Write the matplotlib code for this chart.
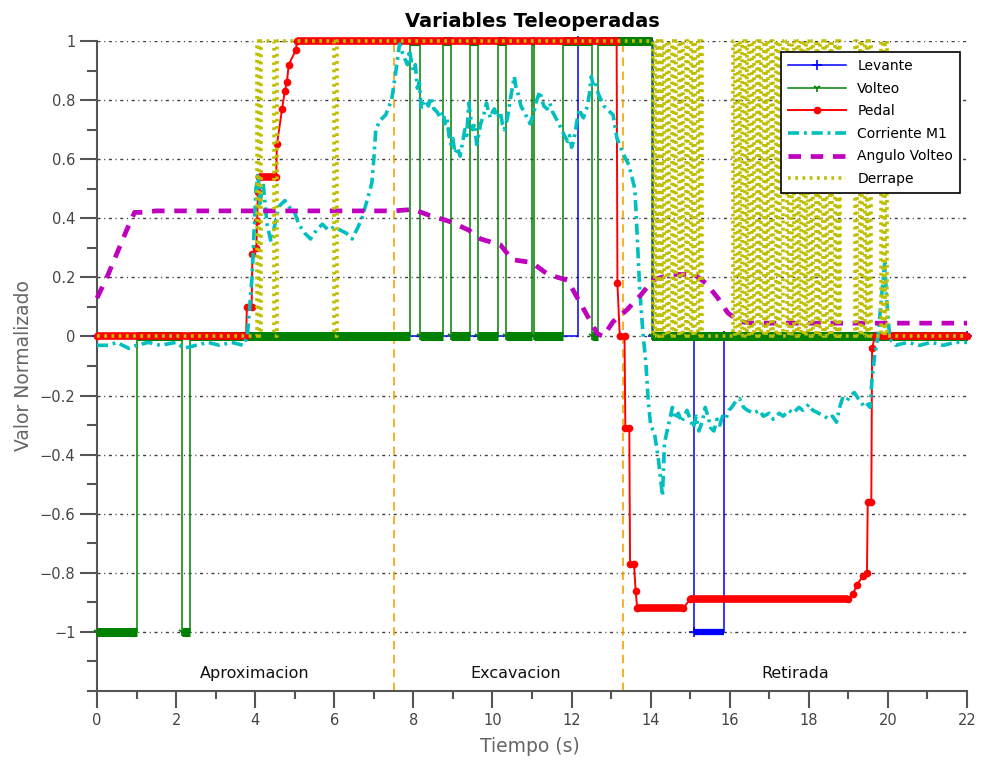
import matplotlib
matplotlib.use('Agg')
import matplotlib.pyplot as plt
from matplotlib.ticker import FixedLocator, FuncFormatter
import numpy as np

plt.rcParams['font.family'] = ['DejaVu Sans']
plt.rcParams['lines.scale_dashes'] = False

# ==========================================
# Datos (tiempo en s, valores normalizados)
# ==========================================
# Levante: senal escalonada (steps-post)
LEV_T = [0, 12.16, 14.07, 15.10, 15.85, 22]
LEV_V = [0, 1, 0, -1, 0, 0]

# Volteo: senal escalonada (steps-post)
VOL_T = [0, 1.0, 2.15, 2.35, 7.91, 8.17, 8.75, 8.95, 9.43, 9.63, 10.14, 10.34,
         11.0, 11.05, 11.78, 12.52, 12.67, 14.04, 22]
VOL_V = [-1, 0, -1, 0, 1, 0, 1, 0, 1, 0, 1, 0, 1, 0, 1, 0, 1, 0, 0]

# Pedal
PED_T = [0, 3.77, 3.79, 3.91, 3.93, 4.03, 4.05, 4.07, 4.10, 4.53,
         4.55, 4.68, 4.75, 4.80, 4.85, 5.03, 5.06, 13.14, 13.16, 13.22,
         13.34, 13.36, 13.46, 13.48, 13.58, 13.62, 13.66, 14.82, 15.00, 18.99,
         19.12, 19.22, 19.37, 19.47, 19.49, 19.58, 19.60, 19.67, 22]
PED_V = [0, 0, 0.10, 0.10, 0.28, 0.30, 0.39, 0.49, 0.54, 0.54,
         0.65, 0.77, 0.83, 0.86, 0.92, 0.97, 1.0, 1.0, 0.18, 0.0,
         0.0, -0.31, -0.31, -0.77, -0.77, -0.86, -0.92, -0.92, -0.89, -0.89,
         -0.87, -0.84, -0.81, -0.80, -0.56, -0.56, -0.04, 0.0, 0.0]

# Corriente M1 (t, valor)
COR_PAIRS = [
    (0, -0.03), (0.3, -0.03), (0.5, -0.02), (0.8, -0.04), (1.0, -0.03),
    (1.3, -0.02), (1.6, -0.03), (2.0, -0.02), (2.2, -0.04), (2.5, -0.03),
    (2.8, -0.02), (3.1, -0.03), (3.4, -0.02), (3.7, -0.03), (3.8, 0.0),
    (3.85, 0.08), (3.92, 0.20), (3.97, 0.35), (4.02, 0.50), (4.07, 0.55),
    (4.12, 0.45), (4.2, 0.52), (4.3, 0.38), (4.4, 0.32), (4.5, 0.38),
    (4.6, 0.44), (4.75, 0.46), (4.85, 0.44), (5.0, 0.42), (5.1, 0.38),
    (5.25, 0.35), (5.4, 0.33), (5.55, 0.36), (5.7, 0.38), (5.85, 0.36),
    (6.0, 0.37), (6.15, 0.36), (6.3, 0.35), (6.45, 0.33), (6.6, 0.37),
    (6.7, 0.40), (6.85, 0.47), (6.95, 0.52), (7.0, 0.60), (7.05, 0.70),
    (7.15, 0.73), (7.3, 0.75), (7.45, 0.80), (7.55, 0.89), (7.65, 0.99),
    (7.75, 0.95), (7.85, 0.92), (7.9, 0.97), (7.95, 0.93), (8.0, 0.90),
    (8.05, 0.92), (8.1, 0.84), (8.15, 0.86), (8.2, 0.77), (8.25, 0.79),
    (8.3, 0.80), (8.38, 0.78), (8.45, 0.81), (8.52, 0.77), (8.6, 0.76),
    (8.68, 0.74), (8.75, 0.76), (8.8, 0.72), (8.85, 0.74), (8.9, 0.68),
    (8.95, 0.65), (9.0, 0.67), (9.05, 0.62), (9.12, 0.64), (9.18, 0.61),
    (9.25, 0.66), (9.3, 0.70), (9.35, 0.68), (9.4, 0.79), (9.45, 0.74),
    (9.5, 0.70), (9.55, 0.72), (9.6, 0.65), (9.65, 0.68), (9.7, 0.72),
    (9.78, 0.75), (9.85, 0.79), (9.9, 0.76), (9.95, 0.74), (10.0, 0.76),
    (10.05, 0.77), (10.12, 0.74), (10.2, 0.76), (10.25, 0.72), (10.3, 0.70),
    (10.38, 0.74), (10.45, 0.80), (10.5, 0.84), (10.55, 0.88), (10.6, 0.84),
    (10.65, 0.82), (10.72, 0.78), (10.8, 0.76), (10.88, 0.74), (10.95, 0.72),
    (11.0, 0.74), (11.05, 0.76), (11.12, 0.80), (11.2, 0.83), (11.25, 0.80),
    (11.3, 0.78), (11.38, 0.77), (11.45, 0.79), (11.52, 0.76), (11.6, 0.74),
    (11.68, 0.72), (11.75, 0.70), (11.82, 0.68), (11.9, 0.66), (11.95, 0.68),
    (12.0, 0.64), (12.05, 0.66), (12.1, 0.70), (12.15, 0.74), (12.2, 0.77),
    (12.25, 0.75), (12.3, 0.74), (12.35, 0.76), (12.4, 0.78), (12.45, 0.82),
    (12.5, 0.88), (12.55, 0.85), (12.6, 0.86), (12.68, 0.82), (12.75, 0.80),
    (12.82, 0.78), (12.9, 0.77), (12.97, 0.76), (13.05, 0.75), (13.15, 0.67),
    (13.3, 0.62), (13.45, 0.58), (13.6, 0.50), (13.65, 0.37), (13.72, 0.17),
    (13.8, 0.02), (13.88, -0.09), (13.94, -0.22), (14.0, -0.30), (14.1, -0.33),
    (14.2, -0.42), (14.3, -0.54), (14.35, -0.36), (14.45, -0.30), (14.55, -0.24),
    (14.62, -0.28), (14.7, -0.26), (14.78, -0.29), (14.85, -0.27), (14.92, -0.25),
    (15.0, -0.28), (15.08, -0.31), (15.15, -0.27), (15.22, -0.32), (15.3, -0.29),
    (15.38, -0.24), (15.45, -0.27), (15.52, -0.31), (15.6, -0.32), (15.68, -0.28),
    (15.75, -0.30), (15.82, -0.27), (15.9, -0.28), (15.98, -0.25), (16.05, -0.24),
    (16.15, -0.22), (16.25, -0.21), (16.35, -0.24), (16.45, -0.25), (16.6, -0.26),
    (16.75, -0.25), (16.85, -0.27), (17.0, -0.26), (17.1, -0.28), (17.25, -0.26),
    (17.35, -0.27), (17.5, -0.25), (17.6, -0.26), (17.75, -0.24), (17.85, -0.25),
    (18.0, -0.23), (18.1, -0.25), (18.25, -0.26), (18.4, -0.27), (18.5, -0.28),
    (18.6, -0.27), (18.7, -0.29), (18.78, -0.24), (18.85, -0.21), (18.95, -0.22),
    (19.05, -0.20), (19.15, -0.19), (19.25, -0.21), (19.32, -0.22), (19.4, -0.24),
    (19.5, -0.23), (19.55, -0.24), (19.6, -0.14), (19.67, -0.06), (19.75, 0.0),
    (19.85, 0.15), (19.92, 0.25), (19.97, 0.12), (20.05, -0.01), (20.2, -0.03),
    (20.5, -0.02), (20.8, -0.03), (21.1, -0.02), (21.4, -0.03), (21.7, -0.02),
    (22, -0.02),
]

# Angulo Volteo
ANG_T = [0, 0.25, 0.5, 0.75, 0.95, 1.1, 1.5, 3.0, 5.0, 7.0, 7.5, 8.0, 8.4, 8.9,
         9.4, 9.7, 10.2, 10.5, 11.0, 11.4, 11.9, 12.15, 12.4, 12.65, 12.8, 13.05,
         13.4, 13.75, 14.05, 14.5, 15.1, 15.4, 15.7, 15.95, 16.25, 16.6, 22]
ANG_V = [0.13, 0.20, 0.28, 0.36, 0.42, 0.42, 0.425, 0.425, 0.425, 0.425, 0.425,
         0.43, 0.41, 0.39, 0.36, 0.33, 0.31, 0.26, 0.25, 0.21, 0.19, 0.13, 0.07,
         0.01, 0.0, 0.05, 0.09, 0.14, 0.19, 0.21, 0.21, 0.18, 0.13, 0.08, 0.05,
         0.045, 0.045]

# Derrape: instantes de conmutacion (empieza en 0 y alterna 0/1)
DER_EDGES = [4.04, 4.10, 4.14, 4.48, 4.54, 5.99, 6.07,
             14.06, 14.10, 14.15, 14.20, 14.24,
             14.29, 14.35, 14.41, 14.47, 14.53, 14.59, 14.65, 14.71, 14.77,
             14.83, 14.89, 14.95, 15.01, 15.07, 15.13, 15.19, 15.25, 15.30,
             16.08, 16.14, 16.20, 16.26, 16.32, 16.38, 16.44, 16.50, 16.56,
             16.62, 16.68, 16.74, 16.80, 16.86, 16.92, 16.98, 17.04, 17.10,
             17.16, 17.22, 17.28, 17.35,
             17.45, 17.51, 17.57, 17.63, 17.69, 17.75, 17.81, 17.87, 17.93,
             17.99, 18.05, 18.11, 18.17, 18.23, 18.29, 18.35, 18.41, 18.47,
             18.53, 18.59, 18.65, 18.71, 18.76, 18.79,
             19.17, 19.23, 19.29, 19.35, 19.41, 19.47, 19.53, 19.58,
             19.82, 19.88, 19.93, 19.98]

PHASE_LIMITS = [7.5, 13.3]
PHASE_NAMES = ['Aproximacion', 'Excavacion', 'Retirada']
PHASE_CENTERS = [4.0, 10.6, 17.65]

# ==========================================
# Funciones auxiliares
# ==========================================
def thick_plateaus(ax, t, v, color, lw, z, step=False, min_len=0.25,
                   skip_zero=False):
    # tramos planos dibujados gruesos (en el original son marcadores densos)
    for i in range(len(t) - 1):
        if skip_zero and v[i] == 0:
            continue
        if (step or v[i] == v[i + 1]) and (t[i + 1] - t[i]) >= min_len:
            ax.hlines(v[i], t[i], t[i + 1], colors=color, lw=lw, zorder=z,
                      clip_on=False)


def tick_fmt(v, pos):
    txt = '%g' % (round(v, 1) + 0.0)
    if txt == '-0':
        txt = '0'
    return txt.replace('-', '\u2212')


fig = plt.figure(figsize=(9.82, 7.62), dpi=100)
ax = fig.add_axes([97 / 982, 1 - 691 / 762, 870 / 982, 650 / 762])

# Levante
ax.plot(LEV_T, LEV_V, drawstyle='steps-post', color='#0000FF', lw=1.1,
        marker='+', ms=7, mew=1.2, label='Levante', zorder=2, clip_on=False)
thick_plateaus(ax, LEV_T, LEV_V, '#0000FF', 4.5, 2, step=True, skip_zero=True)

# Volteo
ax.plot(VOL_T, VOL_V, drawstyle='steps-post', color='#008000', lw=1.1,
        marker='1', ms=6, mew=1.2, label='Volteo', zorder=3, clip_on=False)
thick_plateaus(ax, VOL_T, VOL_V, '#008000', 6.5, 3, step=True, min_len=0)

# Pedal
ax.plot(PED_T, PED_V, color='#FF0000', lw=1.4, marker='o', ms=4.5,
        label='Pedal', zorder=4, clip_on=False)
thick_plateaus(ax, PED_T, PED_V, '#FF0000', 5.5, 4, min_len=0.3)

# Corriente M1
cor_t, cor_v = zip(*COR_PAIRS)
ax.plot(cor_t, cor_v, color='#00BFBF', lw=2.6, dashes=(8, 3.5, 2, 3.5),
        dash_capstyle='butt', label='Corriente M1', zorder=5, clip_on=False)

# Angulo Volteo
ax.plot(ANG_T, ANG_V, color='#BF00BF', lw=3.4, dashes=(9, 7),
        dash_capstyle='butt', label='Angulo Volteo', zorder=6, clip_on=False)

# Derrape
der_t = [0] + DER_EDGES + [22]
der_v = [0] + [(i + 1) % 2 for i in range(len(DER_EDGES))] + [0]
ax.plot(der_t, der_v, drawstyle='steps-post', color='#BFBF00', lw=2.6,
        dashes=(2.0, 3.2), dash_capstyle='butt', label='Derrape', zorder=7,
        clip_on=False)

# Fases
for xl in PHASE_LIMITS:
    ax.plot([xl, xl], [-1.2, 1], color='#F5A300', lw=1.2, dashes=(6, 4),
            zorder=1.5)
for name, xc in zip(PHASE_NAMES, PHASE_CENTERS):
    ax.text(xc, -1.14, name, ha='center', va='center', fontsize=11.5,
            color='#111111')

# Ejes
ax.set_xlim(0, 22)
ax.set_ylim(-1.2, 1)
for s in ['top', 'right']:
    ax.spines[s].set_visible(False)
for s in ['left', 'bottom']:
    ax.spines[s].set_color('#555555')
    ax.spines[s].set_linewidth(1.5)

ax.xaxis.set_major_locator(FixedLocator(np.arange(0, 23, 2)))
ax.xaxis.set_minor_locator(FixedLocator(np.arange(1, 22, 2)))
ax.yaxis.set_major_locator(FixedLocator(np.round(np.arange(-1, 1.01, 0.2), 1)))
ax.yaxis.set_minor_locator(FixedLocator(np.round(np.arange(-1.2, 1.01, 0.1), 1)))
ax.yaxis.set_major_formatter(FuncFormatter(tick_fmt))

ax.tick_params(which='major', direction='out', length=12, width=1.5,
               color='#555555', labelsize=10.5, labelcolor='#444444')
ax.tick_params(axis='y', which='minor', direction='out', length=7, width=1.5,
               color='#555555')
ax.tick_params(axis='x', which='minor', direction='out', length=6, width=1.5,
               color='#555555')

ax.set_axisbelow(True)
ax.yaxis.grid(True, which='major', color='#404040', lw=1.0,
              linestyle=(0, (2.2, 2.6, 0.8, 2.6)))

ax.set_title('Variables Teleoperadas', fontweight='bold', fontsize=14, pad=10)
ax.set_xlabel('Tiempo (s)', fontsize=13.5, color='#666666')
ax.set_ylabel('Valor Normalizado', fontsize=13.5, color='#666666')
ax.xaxis.set_label_coords(0.498, -0.071)
ax.yaxis.set_label_coords(-0.074, 0.5)

leg = ax.legend(loc='upper right', bbox_to_anchor=(0.992, 0.983),
                borderaxespad=0, fontsize=10, handlelength=4.2,
                labelspacing=0.62, handletextpad=0.8, borderpad=0.5,
                fancybox=False, framealpha=1, edgecolor='black')
leg.get_frame().set_linewidth(1.2)
leg.set_zorder(10)

fig.savefig('out.png', dpi=100)
